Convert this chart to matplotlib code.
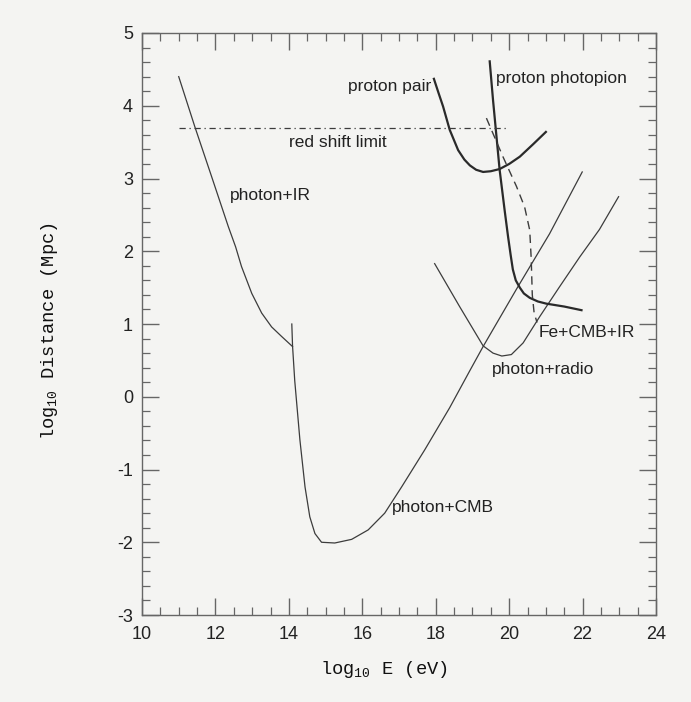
import matplotlib
matplotlib.use("Agg")
import matplotlib.pyplot as plt
from matplotlib.ticker import MultipleLocator

plt.rcParams["font.family"] = ["Liberation Sans", "DejaVu Sans"]
plt.rcParams["mathtext.fontset"] = "custom"
plt.rcParams["mathtext.rm"] = "Liberation Mono"
plt.rcParams["mathtext.it"] = "Liberation Mono"
plt.rcParams["axes.unicode_minus"] = False
plt.rcParams["lines.solid_joinstyle"] = "round"

# curves: log10 E (eV), log10 distance (Mpc)
ir_x = [11.0, 11.44, 11.90, 12.35, 12.55, 12.71, 12.99, 13.26, 13.53, 13.80, 14.1]
ir_y = [4.40, 3.71, 3.02, 2.34, 2.06, 1.79, 1.42, 1.15, 0.96, 0.83, 0.69]

cmb_x = [14.08, 14.10, 14.16, 14.30, 14.44, 14.57, 14.71, 14.89, 15.25, 15.71, 16.16,
         16.61, 17.07, 17.70, 18.38, 18.93, 19.29, 20.2, 21.1, 21.99]
cmb_y = [1.00, 0.70, 0.22, -0.59, -1.24, -1.65, -1.88, -2.00, -2.01, -1.96, -1.83,
         -1.60, -1.24, -0.73, -0.15, 0.36, 0.69, 1.48, 2.24, 3.09]

radio_x = [17.97, 18.65, 19.29, 19.56, 19.80, 20.06, 20.38, 20.83, 21.37, 21.92, 22.46, 22.98]
radio_y = [1.83, 1.24, 0.70, 0.60, 0.56, 0.58, 0.74, 1.10, 1.51, 1.92, 2.30, 2.75]

pair_x = [17.95, 18.08, 18.20, 18.38, 18.61, 18.78, 18.93, 19.10, 19.29, 19.50, 19.74,
          20.0, 20.29, 20.65, 21.0]
pair_y = [4.37, 4.17, 3.99, 3.67, 3.39, 3.26, 3.18, 3.12, 3.09, 3.10, 3.13,
          3.20, 3.30, 3.47, 3.64]

pion_x = [19.47, 19.56, 19.74, 19.88, 19.97, 20.04, 20.10, 20.18, 20.29, 20.40, 20.56,
          20.78, 21.01, 21.5, 21.97]
pion_y = [4.61, 4.08, 3.12, 2.55, 2.20, 1.95, 1.75, 1.60, 1.50, 1.42, 1.36,
          1.31, 1.28, 1.24, 1.19]

fe_x = [19.38, 19.83, 20.20, 20.42, 20.56, 20.60, 20.63, 20.68, 20.76]
fe_y = [3.83, 3.30, 2.89, 2.61, 2.29, 1.90, 1.40, 1.15, 1.02]

redshift_x = [11.0, 20.0]
redshift_y = [3.7, 3.7]

labels = [
    ("photon+IR", 12.39, 2.77),
    ("red shift limit", 14.0, 3.49),
    ("proton pair", 15.61, 4.27),
    ("proton photopion", 19.63, 4.38),
    ("Fe+CMB+IR", 20.80, 0.88),
    ("photon+radio", 19.52, 0.37),
    ("photon+CMB", 16.81, -1.52),
]

bg = "#f4f4f2"
ink = "#3c3c3c"

fig = plt.figure(figsize=(6.91, 7.02), dpi=100, facecolor=bg)
ax = fig.add_axes([0.2055, 0.1239, 0.7439, 0.8291], facecolor=bg)

ax.plot(ir_x, ir_y, color=ink, lw=0.9)
ax.plot(cmb_x, cmb_y, color=ink, lw=0.9)
ax.plot(radio_x, radio_y, color=ink, lw=0.9)
ax.plot(pair_x, pair_y, color="#2a2a2a", lw=1.6)
ax.plot(pion_x, pion_y, color="#2a2a2a", lw=1.6)
ax.plot(fe_x, fe_y, color=ink, lw=1.0, dashes=(6, 4))
ax.plot(redshift_x, redshift_y, color=ink, lw=0.9, dashes=(5, 3, 1, 3))

for txt, x, y in labels:
    ax.text(x, y, txt, fontsize=12.5, color="#222222", ha="left", va="center")

ax.set_xlim(10, 24)
ax.set_ylim(-3, 5)
ax.xaxis.set_major_locator(MultipleLocator(2))
ax.xaxis.set_minor_locator(MultipleLocator(0.5))
ax.yaxis.set_major_locator(MultipleLocator(1))
ax.yaxis.set_minor_locator(MultipleLocator(0.2))
ax.tick_params(which="both", direction="in", top=True, right=True, color="#666666")
ax.tick_params(which="major", length=12, width=1.0, labelsize=13, labelcolor="#222222")
ax.tick_params(which="minor", length=6, width=0.9)
ax.tick_params(axis="x", pad=8)
ax.tick_params(axis="y", pad=6.5)
for s in ax.spines.values():
    s.set_color("#666666")
    s.set_linewidth(1.0)

ax.set_xlabel(r"log$_{\mathrm{10}}$ E (eV)", fontsize=13.5, family="Liberation Mono",
              color="#111111")
ax.set_ylabel(r"log$_{\mathrm{10}}$ Distance (Mpc)", fontsize=13.5, family="Liberation Mono",
              color="#111111")
ax.xaxis.set_label_coords(0.471, -0.075)
ax.yaxis.set_label_coords(-0.160, 0.488)

fig.savefig("out.png", dpi=100, facecolor=bg)
